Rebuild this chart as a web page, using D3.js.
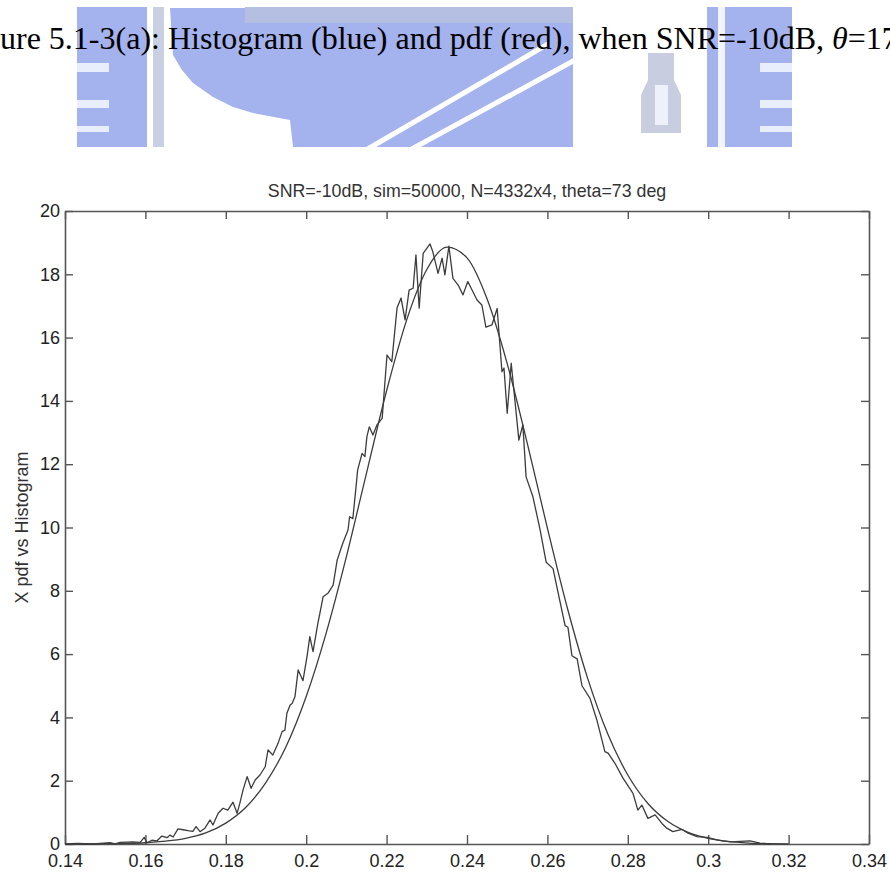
<!DOCTYPE html>
<html>
<head>
<meta charset="utf-8">
<script src="https://cdn.jsdelivr.net/npm/d3@7"></script>
<style>
  body { margin: 0; background: #fff; }
  svg { display: block; }
</style>
</head>
<body>
<div id="chart"></div>
<script>
// histogram (jagged line)
const histX = [
  0.1400, 0.1430, 0.1470, 0.1487, 0.1512, 0.1524, 0.1537, 0.1569, 0.1587, 0.1597,
  0.1604, 0.1616, 0.1629, 0.1641, 0.1654, 0.1661, 0.1669, 0.1681, 0.1694, 0.1706,
  0.1718, 0.1726, 0.1736, 0.1748, 0.1761, 0.1768, 0.1781, 0.1793, 0.1805, 0.1818,
  0.1828, 0.1835, 0.1843, 0.1853, 0.1863, 0.1873, 0.1885, 0.1898, 0.1905, 0.1917,
  0.1930, 0.1940, 0.1947, 0.1952, 0.1960, 0.1965, 0.1972, 0.1980, 0.1992, 0.2002,
  0.2009, 0.2017, 0.2029, 0.2034, 0.2042, 0.2054, 0.2067, 0.2077, 0.2091, 0.2104,
  0.2108, 0.2116, 0.2124, 0.2128, 0.2139, 0.2146, 0.2151, 0.2157, 0.2166, 0.2176,
  0.2189, 0.2201, 0.2213, 0.2226, 0.2236, 0.2246, 0.2256, 0.2266, 0.2273, 0.2281,
  0.2291, 0.2308, 0.2315, 0.2328, 0.2338, 0.2345, 0.2355, 0.2365, 0.2378, 0.2390,
  0.2402, 0.2425, 0.2437, 0.2447, 0.2462, 0.2475, 0.2487, 0.2492, 0.2500, 0.2510,
  0.2529, 0.2539, 0.2547, 0.2564, 0.2582, 0.2597, 0.2614, 0.2644, 0.2651, 0.2661,
  0.2674, 0.2686, 0.2706, 0.2723, 0.2743, 0.2751, 0.2768, 0.2788, 0.2813, 0.2825,
  0.2835, 0.2850, 0.2868, 0.2885, 0.2897, 0.2912, 0.2935, 0.2950, 0.2972, 0.2997,
  0.3022, 0.3054, 0.3104, 0.3129, 0.3154
];
const histY = [
  0.00, 0.02, 0.00, 0.02, 0.04, 0.00, 0.05, 0.07, 0.05, 0.21,
  0.04, 0.12, 0.10, 0.25, 0.20, 0.28, 0.22, 0.48, 0.45, 0.42,
  0.40, 0.55, 0.39, 0.50, 0.76, 0.60, 0.97, 1.13, 1.07, 1.32,
  0.97, 1.29, 1.71, 2.13, 1.76, 2.02, 2.18, 2.44, 2.97, 2.81,
  3.18, 3.55, 3.60, 4.13, 4.39, 4.44, 4.65, 5.50, 5.16, 5.92,
  6.55, 6.08, 6.97, 7.29, 7.81, 7.92, 8.18, 8.97, 9.50, 9.92,
  10.34, 10.28, 11.29, 11.82, 12.34, 12.24, 12.87, 13.18, 12.92, 13.24,
  13.45, 15.45, 15.24, 16.94, 17.25, 16.56, 17.50, 17.56, 18.61, 16.93,
  18.66, 18.96, 18.71, 18.03, 18.51, 17.98, 18.89, 17.87, 17.66, 17.35,
  17.77, 17.19, 17.03, 16.33, 16.40, 16.92, 14.92, 15.04, 13.61, 15.19,
  12.76, 13.24, 11.60, 10.97, 9.92, 8.90, 8.70, 6.90, 6.85, 5.95,
  5.85, 5.00, 4.60, 3.92, 2.92, 2.87, 2.55, 2.08, 1.60, 1.07,
  1.23, 0.81, 0.92, 0.65, 0.50, 0.39, 0.46, 0.34, 0.23, 0.21,
  0.13, 0.07, 0.10, 0.03, 0.00
];

// pdf (smooth curve), every 0.005
const pdfX = [
  0.140, 0.145, 0.150, 0.155, 0.160, 0.165, 0.170, 0.175, 0.180, 0.185,
  0.190, 0.195, 0.200, 0.205, 0.210, 0.215, 0.220, 0.225, 0.230, 0.235,
  0.240, 0.245, 0.250, 0.255, 0.260, 0.265, 0.270, 0.275, 0.280, 0.285,
  0.290, 0.295, 0.300, 0.305, 0.310, 0.315, 0.320
];
const pdfY = [
  0.00, 0.00, 0.01, 0.02, 0.04, 0.09, 0.18, 0.35, 0.66, 1.16,
  1.95, 3.08, 4.66, 6.68, 9.08, 11.72, 14.32, 16.56, 18.15, 18.86,
  18.52, 17.22, 15.18, 12.66, 9.98, 7.44, 5.24, 3.48, 2.18, 1.28,
  0.71, 0.37, 0.18, 0.08, 0.03, 0.01, 0.00
];

const xTicks = [0.14, 0.16, 0.18, 0.2, 0.22, 0.24, 0.26, 0.28, 0.3, 0.32, 0.34];
const yTicks = [0, 2, 4, 6, 8, 10, 12, 14, 16, 18, 20];

const width = 890;
const height = 873;
const margin = { top: 211, right: 21, bottom: 29, left: 65 };
const plotW = width - margin.left - margin.right;
const plotH = height - margin.top - margin.bottom;

const svg = d3.select('#chart')
  .append('svg')
  .attr('width', width)
  .attr('height', height);

// faint blue scanned logo behind the caption
const wm = svg.append('g');
const wmBlue = '#a4b2ee';
wm.append('rect').attr('x', 77).attr('y', 7).attr('width', 70).attr('height', 140).attr('fill', wmBlue);
[[63, 9], [100, 8], [126, 6]].forEach(([y, h]) => {
  wm.append('rect').attr('x', 77).attr('y', y).attr('width', 32).attr('height', h).attr('fill', '#e8eefc');
});
wm.append('rect').attr('x', 153).attr('y', 7).attr('width', 11).attr('height', 140).attr('fill', '#c9d0e4');
wm.append('path')
  .attr('d', 'M170,8 L573,8 L573,147 L293,147 L290,120 L253,113 L233,107 L213,97 L193,83 L182,70 L173,55 Z')
  .attr('fill', wmBlue);
wm.append('rect').attr('x', 245).attr('y', 7).attr('width', 328).attr('height', 16).attr('fill', '#b4bfe2');
wm.append('line').attr('x1', 366).attr('y1', 150).attr('x2', 548).attr('y2', 44)
  .attr('stroke', '#fff').attr('stroke-width', 5);
wm.append('line').attr('x1', 410).attr('y1', 150).attr('x2', 575).attr('y2', 60)
  .attr('stroke', '#fff').attr('stroke-width', 5);
wm.append('path')
  .attr('d', 'M648,53 L674,53 L674,80 L681,95 L681,133 L641,133 L641,95 L648,80 Z')
  .attr('fill', '#c8cee0');
wm.append('path')
  .attr('d', 'M655,85 L668,85 L668,125 L655,125 Z')
  .attr('fill', '#eef1fa');
wm.append('rect').attr('x', 707).attr('y', 7).attr('width', 85).attr('height', 140).attr('fill', wmBlue);
wm.append('rect').attr('x', 718).attr('y', 7).attr('width', 7).attr('height', 140).attr('fill', '#f2f5fd');
[[63, 9], [100, 8], [126, 6]].forEach(([y, h]) => {
  wm.append('rect').attr('x', 760).attr('y', y).attr('width', 32).attr('height', h).attr('fill', '#e8eefc');
});

// caption line, cut at both page edges
const cap = svg.append('text')
  .attr('x', 0)
  .attr('y', 49)
  .attr('font-family', '"Liberation Serif", "Times New Roman", serif')
  .attr('font-size', 32)
  .attr('fill', '#000');
cap.append('tspan').text('ure 5.1-3(a): Histogram (blue) and pdf (red), when SNR=-10dB, ');
cap.append('tspan').attr('font-style', 'italic').text('\u03b8');
cap.append('tspan').text('=17');

const g = svg.append('g')
  .attr('transform', `translate(${margin.left},${margin.top})`);

const x = d3.scaleLinear().domain([0.14, 0.34]).range([0, plotW]);
const y = d3.scaleLinear().domain([0, 20]).range([plotH, 0]);

// matlab style labels: 0.2 not 0.20
const fmt = (d) => String(+d.toFixed(2));

const axisColor = '#555';
const styleAxis = (sel) => {
  sel.selectAll('path').attr('stroke', axisColor).attr('stroke-width', 1.6);
  sel.selectAll('line').attr('stroke', axisColor).attr('stroke-width', 1.4);
  sel.selectAll('text')
    .attr('fill', '#222')
    .attr('font-family', '"Liberation Sans", Arial, sans-serif')
    .attr('font-size', 18);
};

g.append('g')
  .attr('transform', `translate(0,${plotH})`)
  .call(d3.axisBottom(x).tickValues(xTicks).tickFormat(fmt)
    .tickSizeInner(-9).tickSizeOuter(0).tickPadding(10))
  .call(styleAxis);
g.append('g')
  .call(d3.axisTop(x).tickValues(xTicks).tickSizeInner(-8).tickSizeOuter(0).tickFormat(''))
  .call(styleAxis);
g.append('g')
  .call(d3.axisLeft(y).tickValues(yTicks).tickFormat(fmt)
    .tickSizeInner(-8).tickSizeOuter(0).tickPadding(5))
  .call(styleAxis);
g.append('g')
  .attr('transform', `translate(${plotW},0)`)
  .call(d3.axisRight(y).tickValues(yTicks).tickSizeInner(-8).tickSizeOuter(0).tickFormat(''))
  .call(styleAxis);

const lineColor = '#3c3c3c';

const pdfLine = d3.line()
  .x((d, i) => x(pdfX[i]))
  .y((d) => y(d))
  .curve(d3.curveMonotoneX);

g.append('path')
  .datum(pdfY)
  .attr('fill', 'none')
  .attr('stroke', lineColor)
  .attr('stroke-width', 1.3)
  .attr('d', pdfLine);

const histLine = d3.line()
  .x((d, i) => x(histX[i]))
  .y((d) => y(d));

g.append('path')
  .datum(histY)
  .attr('fill', 'none')
  .attr('stroke', lineColor)
  .attr('stroke-width', 1.3)
  .attr('stroke-linejoin', 'round')
  .attr('d', histLine);

// title and y label
g.append('text')
  .attr('x', plotW / 2)
  .attr('y', -14)
  .attr('text-anchor', 'middle')
  .attr('font-family', '"Liberation Sans", Arial, sans-serif')
  .attr('font-size', 17.8)
  .attr('fill', '#333')
  .text('SNR=-10dB, sim=50000, N=4332x4, theta=73 deg');

svg.append('text')
  .attr('transform', `translate(28,${margin.top + plotH / 2}) rotate(-90)`)
  .attr('text-anchor', 'middle')
  .attr('font-family', '"Liberation Sans", Arial, sans-serif')
  .attr('font-size', 18)
  .attr('fill', '#333')
  .text('X pdf vs Histogram');
</script>
</body>
</html>
